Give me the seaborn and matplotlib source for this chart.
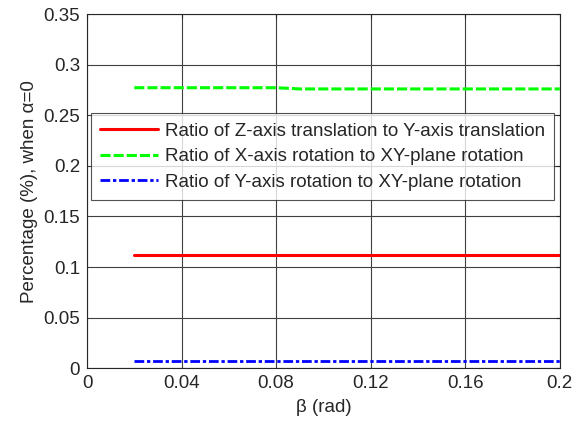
import numpy as np
import pandas as pd
import seaborn as sns
import matplotlib
matplotlib.use('Agg')
import matplotlib.pyplot as plt

sns.set_style('white')
plt.rcParams['font.family'] = ['Liberation Sans', 'DejaVu Sans']

# data
beta = [0.02, 0.03, 0.04, 0.05, 0.06, 0.07, 0.08, 0.09, 0.10, 0.11,
        0.12, 0.13, 0.14, 0.15, 0.16, 0.17, 0.18, 0.19, 0.20]
z_to_y = [0.1115] * 19
x_to_xy = [0.2772] * 7 + [0.2760] * 12
y_to_xy = [0.0072] * 19

labels = ['Ratio of Z-axis translation to Y-axis translation',
          'Ratio of X-axis rotation to XY-plane rotation',
          'Ratio of Y-axis rotation to XY-plane rotation']

df = pd.DataFrame({'beta': beta, 'z': z_to_y, 'x': x_to_xy, 'y': y_to_xy})

fig = plt.figure(figsize=(5.88, 4.25), dpi=100)
ax = fig.add_axes([0.148, 0.1334, 0.804, 0.8336])

sns.lineplot(data=df, x='beta', y='z', ax=ax, color='#ff0000', lw=2.2,
             label=labels[0])
sns.lineplot(data=df, x='beta', y='x', ax=ax, color='#00ff00', lw=2.2,
             label=labels[1], dashes=False)
ax.lines[-1].set_dashes([3.3, 1.0])
sns.lineplot(data=df, x='beta', y='y', ax=ax, color='#0000ff', lw=2.0,
             label=labels[2])
ax.lines[-1].set_dashes([3.5, 1.0, 1.2, 1.0])

ax.set_xlim(0, 0.2)
ax.set_ylim(0, 0.35)
ax.set_xticks([0, 0.04, 0.08, 0.12, 0.16, 0.2])
ax.set_xticklabels(['0', '0.04', '0.08', '0.12', '0.16', '0.2'])
ax.set_yticks(np.arange(0, 0.351, 0.05))
ax.set_yticklabels(['0', '0.05', '0.1', '0.15', '0.2', '0.25', '0.3', '0.35'])
ax.grid(True, color='0.25', lw=0.8, ls='-')
ax.tick_params(direction='in', length=3, labelsize=13.5, top=True, right=True,
               color='0.15', pad=5)
for s in ax.spines.values():
    s.set_color('0.15')
    s.set_linewidth(0.8)

ax.set_xlabel('β (rad)', fontsize=13.5, labelpad=5)
ax.set_ylabel('Percentage (%), when α=0', fontsize=13.5, labelpad=4)

leg = ax.legend(loc='upper left', bbox_to_anchor=(0.008, 0.72), fontsize=13.5,
                frameon=True, fancybox=False, edgecolor='0.15',
                handlelength=3.1, borderpad=0.5, labelspacing=0.45,
                handletextpad=0.35, borderaxespad=0)
leg.get_frame().set_linewidth(0.8)

fig.savefig('out.png', dpi=100)
